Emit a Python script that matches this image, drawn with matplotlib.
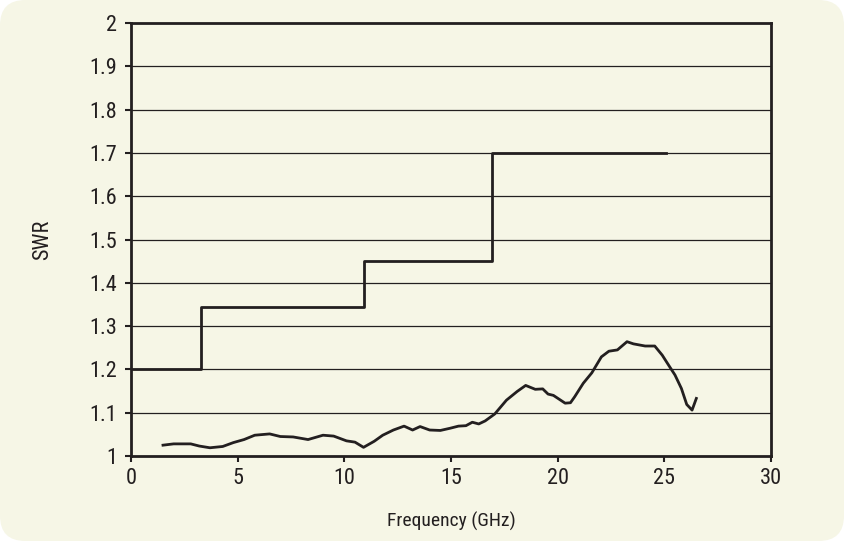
import matplotlib
matplotlib.use("Agg")
import matplotlib.pyplot as plt
from matplotlib.patches import FancyBboxPatch
from matplotlib import font_manager

names = {f.name for f in font_manager.fontManager.ttflist}
cands = [n for n in ['Liberation Sans Narrow', 'Roboto Condensed', 'DejaVu Sans Condensed', 'Open Sans Condensed'] if n in names]
plt.rcParams['font.family'] = cands + ['DejaVu Sans']
plt.rcParams['font.stretch'] = 'condensed'

# Specification (step) line
spec_freq = [0, 3.3, 10.9, 16.9, 25.1]
spec_swr = [1.2, 1.345, 1.45, 1.7, 1.7]

# Measured SWR curve
meas_freq = [1.5, 2.0, 2.8, 3.2, 3.7, 4.3, 4.8, 5.3, 5.8, 6.5, 7.0, 7.6, 8.3, 9.0, 9.5,
             10.1, 10.5, 10.9, 11.4, 11.8, 12.3, 12.8, 13.2, 13.55, 14.0, 14.5, 14.95,
             15.35, 15.7, 16.0, 16.3, 16.6, 17.05, 17.6, 18.1, 18.5, 18.95, 19.3, 19.55,
             19.8, 20.35, 20.6, 20.8, 21.2, 21.6, 22.05, 22.4, 22.8, 23.25, 23.55, 24.1,
             24.55, 24.9, 25.25, 25.5, 25.8, 26.05, 26.3, 26.5]
meas_swr = [1.025, 1.028, 1.028, 1.023, 1.019, 1.022, 1.031, 1.038, 1.048, 1.051, 1.045,
            1.044, 1.038, 1.048, 1.046, 1.035, 1.032, 1.020, 1.034, 1.048, 1.060, 1.069,
            1.060, 1.068, 1.060, 1.059, 1.064, 1.069, 1.070, 1.078, 1.074, 1.081, 1.097,
            1.129, 1.149, 1.163, 1.154, 1.155, 1.143, 1.140, 1.122, 1.123, 1.137, 1.168,
            1.192, 1.229, 1.242, 1.245, 1.264, 1.259, 1.254, 1.254, 1.233, 1.206, 1.187,
            1.156, 1.119, 1.106, 1.133]

x_ticks = [0, 5, 10, 15, 20, 25, 30]
y_ticks = [1, 1.1, 1.2, 1.3, 1.4, 1.5, 1.6, 1.7, 1.8, 1.9, 2]
y_tick_labels = ['1', '1.1', '1.2', '1.3', '1.4', '1.5', '1.6', '1.7', '1.8', '1.9', '2']

bg = '#f6f6e6'
ink = '#231f20'

fig = plt.figure(figsize=(8.44, 5.41), dpi=100)
fig.patch.set_facecolor('white')
fig.patches.append(FancyBboxPatch((0.0, 0.0), 1.0, 1.0, boxstyle='round,pad=0,rounding_size=0.03',
                                  transform=fig.transFigure, facecolor=bg, edgecolor='none',
                                  mutation_aspect=844/541, zorder=-10))

ax = fig.add_axes([131/844, 85/541, 640/844, 433/541])
ax.set_facecolor(bg)

for y in y_ticks[1:-1]:
    ax.axhline(y, color=ink, lw=0.9, zorder=1)

ax.step(spec_freq, spec_swr, where='post', color=ink, lw=2.0, zorder=3)
ax.plot(meas_freq, meas_swr, color=ink, lw=2.0, zorder=3)

ax.set_xlim(0, 30)
ax.set_ylim(1, 2)
ax.set_xticks(x_ticks)
ax.set_yticks(y_ticks)
ax.set_yticklabels(y_tick_labels)
ax.tick_params(direction='out', length=4, width=1.5, color=ink, labelcolor=ink, labelsize=16)
ax.tick_params(axis='y', pad=6)
ax.tick_params(axis='x', pad=5)
for s in ax.spines.values():
    s.set_color(ink)
    s.set_linewidth(2.0)

ax.set_xlabel('Frequency (GHz)', fontsize=14, color=ink, labelpad=16)
ax.set_ylabel('SWR', fontsize=16, color=ink, labelpad=26)

fig.savefig('out.png', dpi=100, facecolor=fig.get_facecolor())
